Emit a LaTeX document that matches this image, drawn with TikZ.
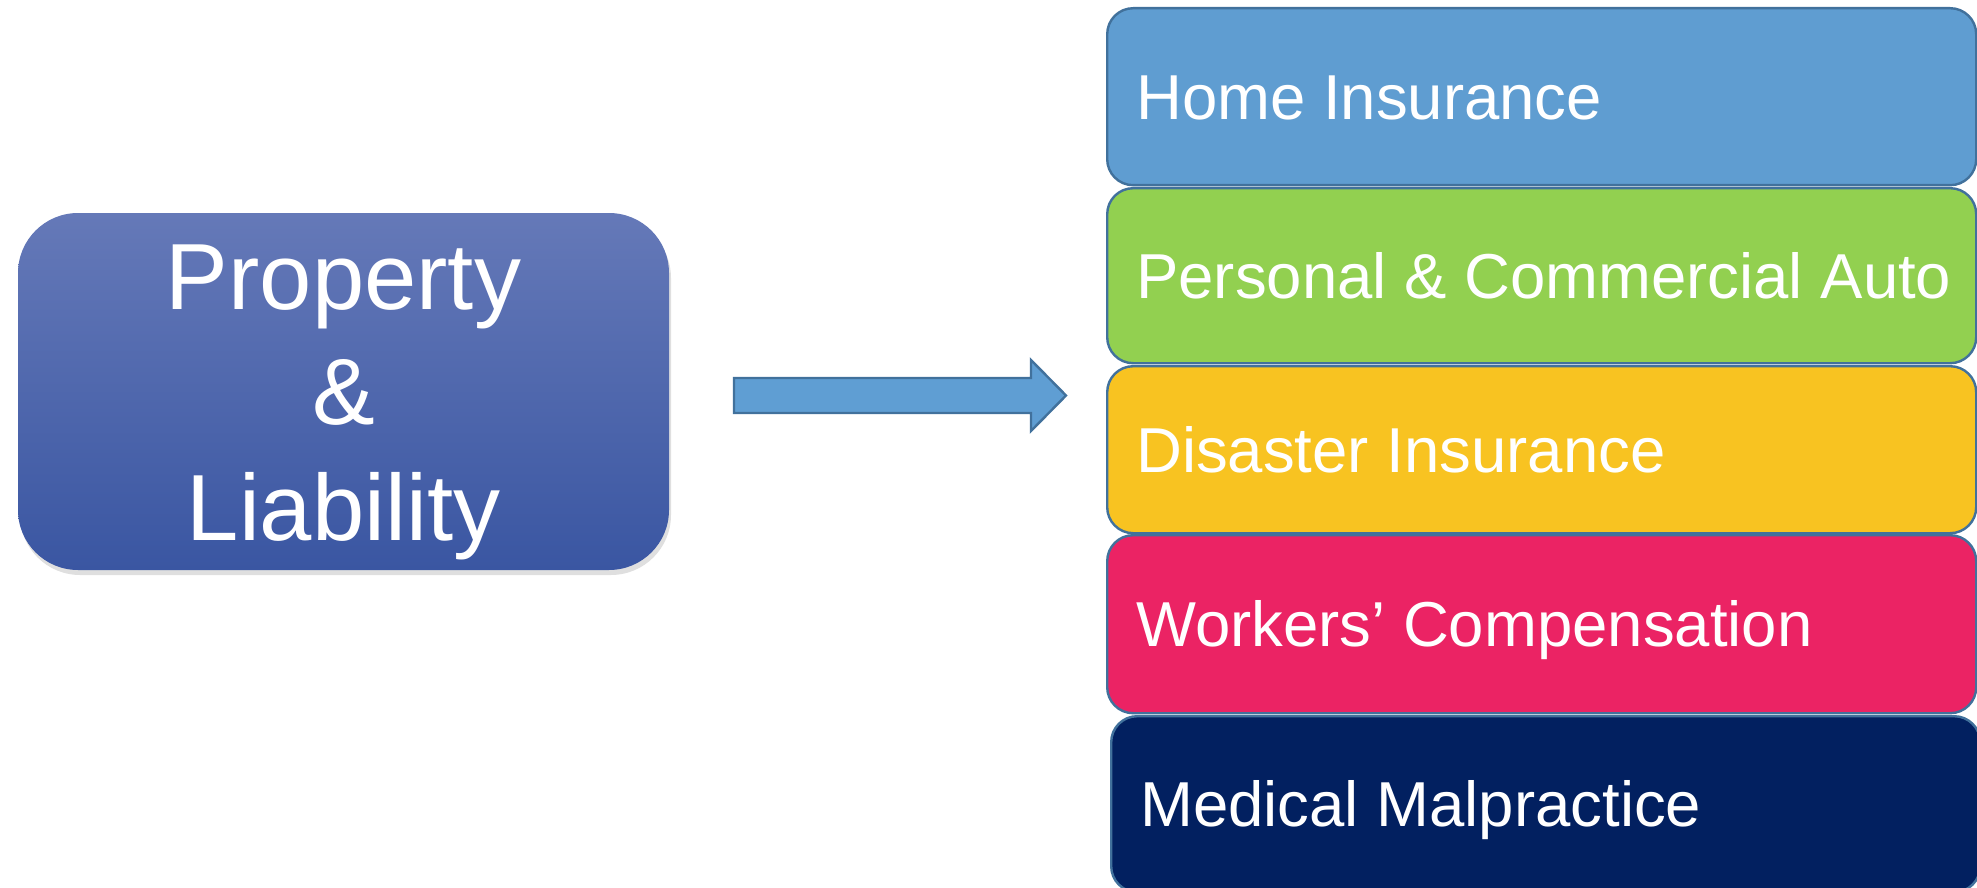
\documentclass[tikz,border=0pt]{standalone}
\usepackage{fontspec}
\setmainfont{Liberation Sans}
\usetikzlibrary{shadows}
\definecolor{plTop}{HTML}{6579B8}
\definecolor{plBot}{HTML}{3A56A2}
\definecolor{arrFill}{HTML}{5F9ED3}
\definecolor{bord}{HTML}{41719C}
\definecolor{cHome}{HTML}{5F9DD1}
\definecolor{cAuto}{HTML}{92D050}
\definecolor{cDis}{HTML}{F8C321}
\definecolor{cWork}{HTML}{EB2364}
\definecolor{cMed}{HTML}{022060}
\tikzset{
  plbox/.style={rounded corners=30pt, top color=plTop, bottom color=plBot,
    draw=none, text=white, align=center, inner sep=0pt,
    font=\fontsize{47}{57.75}\selectfont,
    drop shadow={opacity=0.25, shadow xshift=1pt, shadow yshift=-2.5pt}},
  rbox/.style={draw=bord, line width=1.2pt, rounded corners=13pt, anchor=north west,
    inner xsep=14.5pt, inner ysep=0pt, text height=22.6pt, text depth=0pt,
    text=white, font=\fontsize{31.75}{38}\selectfont},
  arrowshape/.style={draw=bord, line width=1.2pt, fill=arrFill, line join=miter}
}
\newcommand{\rtext}[1]{\makebox[405.5pt][l]{#1}}
\begin{document}
\begin{tikzpicture}[x=0.5pt,y=-0.5pt]
\useasboundingbox (0,0) rectangle (1977,888);
\node[plbox, minimum width=325.5pt, minimum height=178.5pt] (pl) at (343.5,391.5)
  {\rule{0pt}{43pt}Property\\\&\\Liability};
\draw[arrowshape] (734,378) -- (1031,378) -- (1031,360) -- (1066,395.5)
  -- (1031,431) -- (1031,413) -- (734,413) -- cycle;
\node[rbox, fill=cMed, minimum height=88pt] (med) at (1110,715) {\rtext{Medical Malpractice}};
\node[rbox, fill=cWork, minimum height=89pt] (work) at (1106,534) {\rtext{Workers’ Compensation}};
\node[rbox, fill=cDis, minimum height=83.5pt] (dis) at (1106,365) {\rtext{Disaster Insurance}};
\node[rbox, fill=cAuto, minimum height=87.5pt] (auto) at (1106,187) {\rtext{Personal \& Commercial Auto}};
\node[rbox, fill=cHome, minimum height=88.5pt] (home) at (1106,7) {\rtext{Home Insurance}};
\end{tikzpicture}
\end{document}
